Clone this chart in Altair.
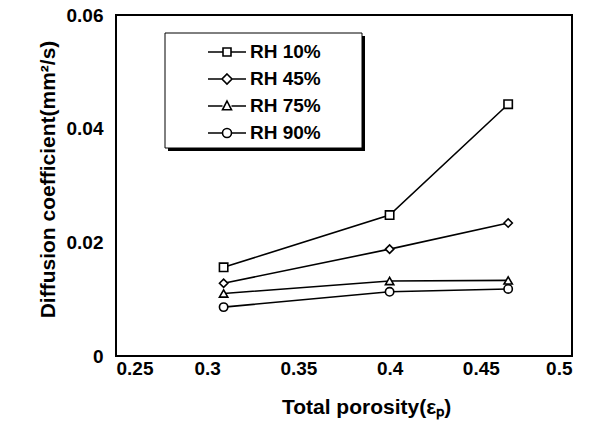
import altair as alt
import pandas as pd

porosity = [0.309, 0.4, 0.465]
series = ["RH 10%", "RH 45%", "RH 75%", "RH 90%"]
rh10 = [0.0156, 0.0248, 0.0443]
rh45 = [0.0128, 0.0188, 0.0234]
rh75 = [0.0110, 0.0132, 0.0133]
rh90 = [0.0086, 0.0113, 0.0118]
x_ticks = [0.25, 0.3, 0.35, 0.4, 0.45, 0.5]
y_ticks = [0, 0.02, 0.04, 0.06]

rows = []
for name, vals in zip(series, [rh10, rh45, rh75, rh90]):
    for xv, yv in zip(porosity, vals):
        rows.append({"series": name, "x": xv, "y": yv})
df = pd.DataFrame(rows)

FONT = "Liberation Sans"

plot_shapes = ["square", "diamond", "triangle-up", "circle"]
line_part = "M -1.9 0 L -0.45 0 M 0.45 0 L 1.9 0 "
legend_shapes = [
    line_part + "M -0.4 -0.4 L 0.4 -0.4 L 0.4 0.4 L -0.4 0.4 Z",
    line_part + "M 0 -0.5 L 0.5 0 L 0 0.5 L -0.5 0 Z",
    line_part + "M 0 -0.5 L 0.45 0.38 L -0.45 0.38 Z",
    line_part + "M 0.45 0 A 0.45 0.45 0 1 1 -0.45 0 A 0.45 0.45 0 1 1 0.45 0 Z",
]

xenc = alt.X("x:Q", scale=alt.Scale(domain=[0.25, 0.5], nice=False),
             axis=alt.Axis(values=x_ticks, format="~g", title="Total porosity(εₚ)",
                           labelPadding=3, titlePadding=18, titleX=250))
yenc = alt.Y("y:Q", scale=alt.Scale(domain=[0, 0.06], nice=False),
             axis=alt.Axis(values=y_ticks, format="~g", title="Diffusion coefficient(mm²/s)",
                           labelPadding=13, titlePadding=8, titleY=164))

box_df = pd.DataFrame({"k": [0]})
shadow = alt.Chart(box_df).mark_rect(color="black").encode(
    x=alt.value(52), x2=alt.value(249), y=alt.value(21), y2=alt.value(136))
box = alt.Chart(box_df).mark_rect(fill="white", stroke="black", strokeWidth=1).encode(
    x=alt.value(49), x2=alt.value(246), y=alt.value(18), y2=alt.value(133))

lines = alt.Chart(df).mark_line(color="black", strokeWidth=1.6).encode(
    x=xenc, y=yenc, detail="series:N")

points = alt.Chart(df).mark_point(filled=True, fill="white", stroke="black",
                                  strokeWidth=1.6, size=70, opacity=1).encode(
    x="x:Q", y="y:Q",
    shape=alt.Shape("series:N", scale=alt.Scale(domain=series, range=plot_shapes),
                    legend=None))

legend_layer = alt.Chart(df).mark_point(filled=False, stroke="black",
                                        strokeWidth=1.6, opacity=0).encode(
    x="x:Q", y="y:Q",
    shape=alt.Shape("series:N",
                    scale=alt.Scale(domain=series, range=legend_shapes),
                    legend=alt.Legend(
                        title=None, orient="none", legendX=49, legendY=18,
                        padding=8, symbolSize=400, symbolOffset=43, labelOffset=12,
                        rowPadding=6, labelFont=FONT, labelFontSize=19,
                        labelFontWeight="bold", labelColor="black",
                        labelLimit=400, symbolOpacity=1,
                        symbolFillColor="white", symbolStrokeColor="black",
                        symbolStrokeWidth=1.6))
)

chart = alt.layer(shadow, box, lines, points, legend_layer).resolve_scale(
    shape="independent"
).properties(
    width=456, height=341,
    autosize=alt.AutoSizeParams(type="none"),
    padding={"left": 108, "top": 7, "right": 15, "bottom": 72},
).configure_view(
    stroke="black", strokeWidth=2
).configure_axis(
    grid=False, ticks=False, domain=False,
    labelFont=FONT, labelFontSize=19, labelFontWeight="bold", labelColor="black",
    titleFont=FONT, titleFontSize=21, titleFontWeight="bold", titleColor="black",
)

chart.save("out.html", embed_options={"renderer": "svg", "actions": False})
